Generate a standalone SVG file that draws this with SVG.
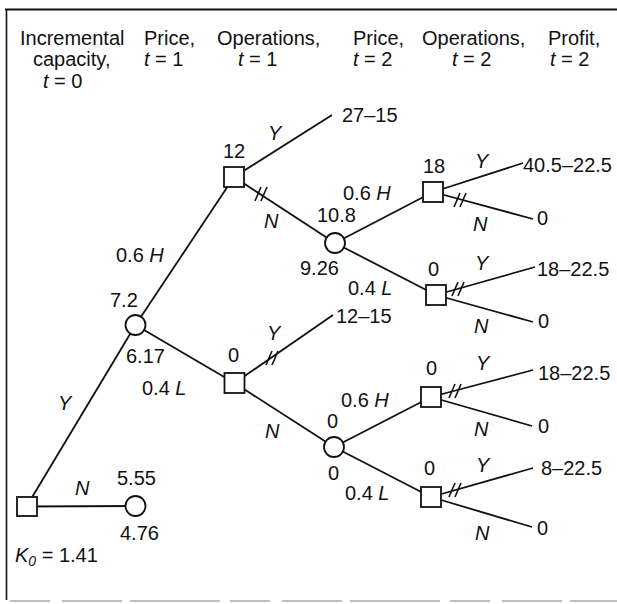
<svg xmlns="http://www.w3.org/2000/svg" width="617" height="604" viewBox="0 0 617 604">
<style>
.e{stroke:#111;stroke-width:1.8;fill:none}
.n{fill:#fff;stroke:#111;stroke-width:1.8}
text{font-family:"Liberation Sans",Arial,Helvetica,sans-serif;font-size:20px;fill:#111}
.i{font-style:italic}
.hh line{stroke:#111;stroke-width:1.6}
.fr{stroke:#111;fill:none}
</style>
<defs>
<g id="hh" class="hh"><line x1="-6" y1="7" x2="0" y2="-7"/><line x1="0" y1="7" x2="6" y2="-7"/></g>
</defs>
<rect width="617" height="604" fill="#fff"/>
<g id="frame">
<line class="fr" x1="5" y1="9.5" x2="617" y2="9.5" stroke-width="2.2"/>
<line class="fr" x1="6.5" y1="9" x2="6.5" y2="600" stroke-width="1.6"/>
<line x1="10" y1="601" x2="617" y2="601" stroke="#aaa" stroke-width="1.5" stroke-dasharray="40 12 60 8 90 10"/>
</g>
<g id="header">
<text x="20" y="45">Incremental</text>
<text x="33" y="66">capacity,</text>
<text x="43" y="88"><tspan class="i">t</tspan> = 0</text>
<text x="144" y="45">Price,</text>
<text x="144" y="66"><tspan class="i">t</tspan> = 1</text>
<text x="217" y="45">Operations,</text>
<text x="238" y="66"><tspan class="i">t</tspan> = 1</text>
<text x="353" y="45">Price,</text>
<text x="353" y="66"><tspan class="i">t</tspan> = 2</text>
<text x="422" y="45">Operations,</text>
<text x="452" y="66"><tspan class="i">t</tspan> = 2</text>
<text x="548" y="45">Profit,</text>
<text x="550" y="66"><tspan class="i">t</tspan> = 2</text>
</g>
<g id="connectors">
<line class="e" x1="26.5" y1="506.5" x2="135.5" y2="325"/>
<line class="e" x1="26.5" y1="506.5" x2="135.5" y2="506"/>
<line class="e" x1="135.5" y1="325" x2="234" y2="177"/>
<line class="e" x1="135.5" y1="325" x2="234.5" y2="383"/>
<line class="e" x1="234" y1="177" x2="332" y2="115"/>
<line class="e" x1="234" y1="177" x2="335" y2="243"/>
<line class="e" x1="234.5" y1="383" x2="333" y2="315"/>
<line class="e" x1="234.5" y1="383" x2="334" y2="447"/>
<line class="e" x1="335" y1="243" x2="433" y2="192"/>
<line class="e" x1="335" y1="243" x2="436" y2="295"/>
<line class="e" x1="433" y1="192" x2="523" y2="163"/>
<line class="e" x1="433" y1="192" x2="533" y2="219"/>
<line class="e" x1="436" y1="295" x2="535" y2="267"/>
<line class="e" x1="436" y1="295" x2="533" y2="322"/>
<line class="e" x1="334" y1="447" x2="431" y2="397"/>
<line class="e" x1="334" y1="447" x2="431" y2="497"/>
<line class="e" x1="431" y1="397" x2="533" y2="370"/>
<line class="e" x1="431" y1="397" x2="532" y2="426"/>
<line class="e" x1="431" y1="497" x2="533" y2="468"/>
<line class="e" x1="431" y1="497" x2="532" y2="527"/>
<use href="#hh" x="261" y="194"/>
<use href="#hh" x="272" y="358"/>
<use href="#hh" x="460" y="200"/>
<use href="#hh" x="458" y="289"/>
<use href="#hh" x="455" y="391"/>
<use href="#hh" x="455" y="490"/>
<text class="i" x="58" y="410">Y</text>
<text class="i" x="75" y="495">N</text>
<text x="116" y="262">0.6 <tspan class="i">H</tspan></text>
<text x="142" y="395">0.4 <tspan class="i">L</tspan></text>
<text class="i" x="268" y="140">Y</text>
<text class="i" x="264" y="228">N</text>
<text class="i" x="267" y="340">Y</text>
<text class="i" x="265" y="438">N</text>
<text x="343" y="200">0.6 <tspan class="i">H</tspan></text>
<text x="348" y="295">0.4 <tspan class="i">L</tspan></text>
<text x="341" y="407">0.6 <tspan class="i">H</tspan></text>
<text x="345" y="500">0.4 <tspan class="i">L</tspan></text>
<text class="i" x="475" y="168">Y</text>
<text class="i" x="473" y="231">N</text>
<text class="i" x="475" y="270">Y</text>
<text class="i" x="474" y="333">N</text>
<text class="i" x="476" y="370">Y</text>
<text class="i" x="474" y="436">N</text>
<text class="i" x="476" y="472">Y</text>
<text class="i" x="475" y="540">N</text>
</g>
<g id="root">
<rect class="n" x="17" y="497" width="20" height="19"/>
<text x="15" y="562"><tspan class="i">K<tspan font-size="14" dy="4">0</tspan></tspan><tspan dy="-4"> = 1.41</tspan></text>
</g>
<g id="c-no">
<circle class="n" cx="135.5" cy="506" r="10"/>
<text x="117" y="485">5.55</text>
<text x="120" y="540">4.76</text>
</g>
<g id="c-price1">
<circle class="n" cx="135.5" cy="325" r="10"/>
<text x="110" y="307">7.2</text>
<text x="126" y="363">6.17</text>
</g>
<g id="s-ops1-high">
<rect class="n" x="224" y="167" width="20" height="20"/>
<text x="223" y="158">12</text>
</g>
<g id="s-ops1-low">
<rect class="n" x="224.5" y="373" width="20" height="20"/>
<text x="228" y="362">0</text>
</g>
<g id="t-27-15"><text x="342" y="122">27–15</text></g>
<g id="t-12-15"><text x="336" y="323">12–15</text></g>
<g id="c-price2-a">
<circle class="n" cx="335" cy="243" r="10"/>
<text x="317" y="222">10.8</text>
<text x="300" y="275">9.26</text>
</g>
<g id="c-price2-b">
<circle class="n" cx="334" cy="447" r="10"/>
<text x="327" y="428">0</text>
<text x="328" y="480">0</text>
</g>
<g id="s-ops2-a">
<rect class="n" x="423" y="182" width="20" height="20"/>
<text x="423" y="173">18</text>
</g>
<g id="s-ops2-b">
<rect class="n" x="426" y="285" width="20" height="20"/>
<text x="428" y="276">0</text>
</g>
<g id="s-ops2-c">
<rect class="n" x="421" y="387" width="20" height="20"/>
<text x="426" y="375">0</text>
</g>
<g id="s-ops2-d">
<rect class="n" x="421" y="487" width="20" height="20"/>
<text x="424" y="475">0</text>
</g>
<g id="profits">
<text x="523" y="172">40.5–22.5</text>
<text x="537" y="225">0</text>
<text x="537" y="276">18–22.5</text>
<text x="538" y="328">0</text>
<text x="538" y="380">18–22.5</text>
<text x="538" y="433">0</text>
<text x="541" y="475">8–22.5</text>
<text x="537" y="535">0</text>
</g>
</svg>
